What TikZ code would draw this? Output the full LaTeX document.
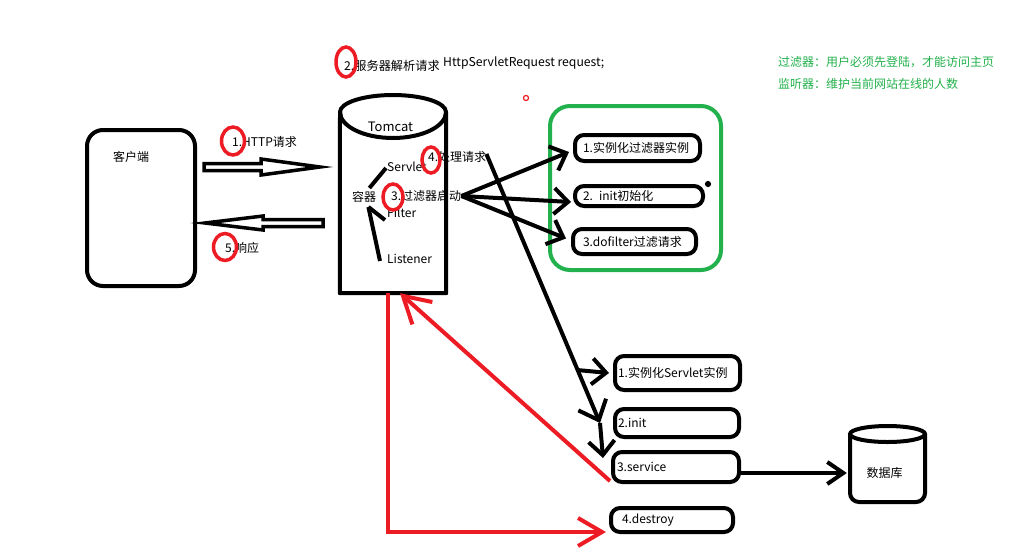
\documentclass[tikz,border=0pt]{standalone}
\usepackage{fontspec}
\setmainfont{Noto Sans CJK SC}
\usetikzlibrary{arrows.meta,calc,shapes.geometric}
\definecolor{pgreen}{HTML}{22B14C}
\definecolor{pred}{HTML}{ED1C24}
\begin{document}
\begin{tikzpicture}[x=1pt,y=-1pt,
  txt/.style={inner sep=0pt, font=\fontsize{12}{14}\selectfont, anchor=west},
  bigtxt/.style={inner sep=0pt, font=\fontsize{12.2}{15}\selectfont, anchor=west},
  heavy/.style={line width=4pt},
  rbox/.style={draw, line width=4pt, rounded corners=9pt, inner ysep=0pt, font=\fontsize{12}{14}\selectfont, align=left},
  barr/.style={line width=4pt, -{Straight Barb[length=14pt,width=26pt]}},
  rarr/.style={draw=pred, line width=4pt, -{Straight Barb[length=26pt,width=30pt]}},
  redmark/.style={ellipse, draw=pred, line width=3.5pt, inner sep=0pt},
  hollow/.style={line width=3.5pt, line join=miter}
]
\useasboundingbox (0,0) rectangle (1032,555);
\fill[white] (0,0) rectangle (1032,555);

% client
\node[draw, line width=4pt, rounded corners=16pt, minimum width=108pt, minimum height=156pt, inner sep=0pt] (client) at (141,208) {};
\node[txt] (clientt) at (113,157) {客户端};

% hollow arrows
\draw[hollow] (204,163.5) -- (261,163.5) -- (261,159) -- (320,167) -- (261,175) -- (261,170.5) -- (204,170.5) -- cycle;
\draw[hollow] (205,223) -- (263,216) -- (263,219.5) -- (323,219.5) -- (323,226.5) -- (263,226.5) -- (263,230) -- cycle;
\node[txt] (req) at (232,142) {1.HTTP请求};
\node[txt] (resp) at (225,248) {5.响应};

% top labels
\node[bigtxt] (parse) at (344,66) {2.服务器解析请求};
\node[bigtxt] (hsr) at (443,63) {HttpServletRequest request;};

% tomcat cylinder
\node[minimum width=106pt, minimum height=181pt, inner sep=0pt] (tc) at (393,202.5) {};
\draw[heavy, line join=round] (tc.south west) -- (340,112) arc[start angle=180, end angle=0, x radius=53pt, y radius=17pt] -- (tc.south east) -- cycle;
\draw[heavy] (340,112) arc[start angle=180, end angle=360, x radius=53pt, y radius=26pt];
\node[inner sep=0pt, font=\fontsize{13}{15}\selectfont] (tct) at (390.5,127) {Tomcat};

% inside tomcat
\node[txt] (rq) at (352,197) {容器};
\node[txt] (sv) at (387,167) {Servlet};
\node[txt] (fl) at (387,213) {Filter};
\node[txt] (ls) at (387,259) {Listener};
\node[txt] (st3) at (391,196) {3.过滤器启动};
\node[txt] (p4) at (428,157) {4.处理请求};
\coordinate (rqc) at ($(rq.east)+(-8,10)$);
\draw[heavy] ($(rq.east)+(-7,-9)$) -- ($(sv.west)+(-1,1)$);
\draw[heavy] (rqc) -- ($(fl.west)+(-2,7)$);
\draw[heavy] ($(ls.west)+(-7,2)$) -- (rqc);

% green filter group
\node[draw=pgreen, line width=4pt, rounded corners=20pt, minimum width=171pt, minimum height=164pt, inner sep=0pt] (grp) at (635.5,188) {};
\node[rbox, minimum width=125pt, minimum height=26pt, text width=109pt, inner xsep=8pt] (f1) at (637.5,148) {1.实例化过滤器实例};
\node[rbox, minimum width=128pt, minimum height=20pt, text width=112pt, inner xsep=8pt] (f2) at (639,196) {2. init初始化};
\node[rbox, minimum width=123pt, minimum height=25pt, text width=103pt, inner xsep=10pt] (f3) at (634.5,241.5) {3.dofilter过滤请求};
\node[circle, fill, inner sep=2.2pt] (dot) at (708,184) {};
\node[circle, draw=pred, line width=1.2pt, inner sep=1.8pt] (rdot) at (526,98) {};

\draw[barr] (st3.east) -- ($(f1.west)+(-4,4)$);
\draw[barr] (st3.east) -- ($(f2.west)+(-2,6)$);
\draw[barr] (st3.east) -- ($(f3.west)+(-5,-3)$);

% servlet lifecycle boxes
\node[rbox, minimum width=125pt, minimum height=34pt, text width=119pt, inner xsep=3pt] (s1) at (677.5,373) {1.实例化Servlet实例};
\node[rbox, minimum width=124pt, minimum height=28pt, text width=118pt, inner xsep=3pt] (s2) at (677,423) {2.init};
\node[rbox, minimum width=126pt, minimum height=30pt, text width=118pt, inner xsep=4pt] (s3) at (676,467) {3.service};
\node[rbox, minimum width=122pt, minimum height=24pt, text width=100pt, inner xsep=11pt] (s4) at (672,520) {4.destroy};

\coordinate (j1) at (577,370);
\coordinate (j2) at (600,423);
\draw[line width=4pt, -{Straight Barb[length=17pt,width=30pt]}] ($(p4.east)+(0,-3)$) -- (j2);
\draw[barr] (j2) -- ($(s3.north west)+(-8,8)$);
\draw[barr] (j1) -- ($(s1.west)+(-4,0)$);

% database
\node[minimum width=79pt, minimum height=79pt, inner sep=0pt] (db) at (887.5,464.5) {};
\draw[heavy] (887.5,434) ellipse [x radius=37.5pt, y radius=8pt];
\draw[heavy, rounded corners=9pt] (850,434) -- (850,502) -- (925,502) -- (925,434);
\node[inner sep=0pt, font=\fontsize{12}{14}\selectfont] (dbt) at (884.5,473) {数据库};
\draw[line width=4pt, -{Straight Barb[length=16pt,width=22pt]}] (s3.east |- dbt.center) -- ($(db.west |- dbt.center)+(-1,0)$);

% red arrows
\draw[rarr] ($(s3.south west)+(-1,-3)$) -- ($(tc.south)+(7,0)$);
\coordinate (r4) at ($(s4.south west)+(-3,-2)$);
\draw[rarr, -{Straight Barb[length=24pt,width=28pt]}] ($(tc.south west)+(48,0)$) |- (r4);

% red marks
\node[redmark, minimum width=23pt, minimum height=28pt] (m1) at (233,141) {};
\node[redmark, minimum width=23pt, minimum height=27pt] (m5) at (225,247) {};
\node[redmark, minimum width=20pt, minimum height=30pt] (m2) at (346,62) {};
\node[redmark, minimum width=20pt, minimum height=26pt] (m3) at (393,197) {};
\node[redmark, minimum width=18pt, minimum height=26pt] (m4) at (431,160) {};

% notes
\node[txt, text=pgreen] (g1) at (778,62) {过滤器：用户必须先登陆，才能访问主页};
\node[txt, text=pgreen] (g2) at (778,84) {监听器：维护当前网站在线的人数};
\end{tikzpicture}
\end{document}
